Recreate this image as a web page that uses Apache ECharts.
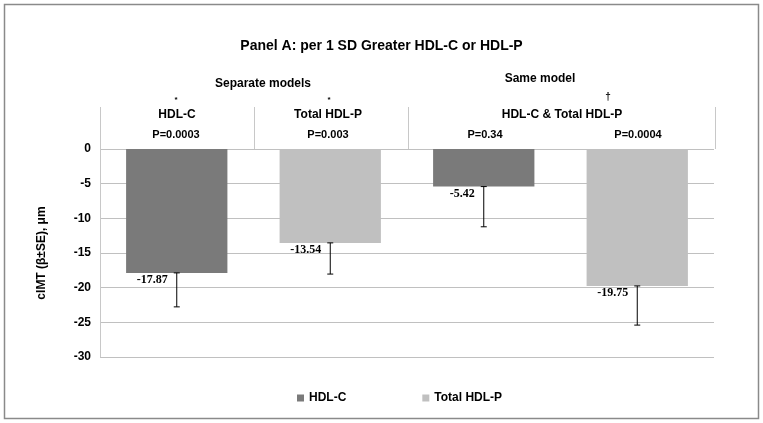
<!DOCTYPE html>
<html>

<head>
    <meta charset="utf-8">
    <script src="https://cdn.jsdelivr.net/npm/echarts@6/dist/echarts.min.js"></script>
    <style>
        html, body, div {
            width: 100%;
            height: 100%;
            margin: 0px;
            background: #fff;
        }
    </style>
</head>

<body>
    <div id="chart"></div>
    <script>
        // data
        var categories = ['HDL-C', 'Total HDL-P', 'HDL-C (same model)', 'Total HDL-P (same model)'];
        var hdlC = [-17.87, '-', -5.42, '-'];
        var totalHdlP = ['-', -13.54, '-', -19.75];
        var betas = [-17.87, -13.54, -5.42, -19.75];
        var stdErr = [4.9, 4.5, 5.8, 5.65];
        var pLabels = ['P=0.0003', 'P=0.003', 'P=0.34', 'P=0.0004'];

        var sans = '"Liberation Sans", Arial, sans-serif';
        var errData = betas.map(function (b, i) { return [i, b, stdErr[i]]; });

        function renderErr(params, api) {
            var i = api.value(0), v = api.value(1), e = api.value(2);
            var p0 = api.coord([i, v]);
            var p1 = api.coord([i, v - e]);
            var st = { stroke: '#000', lineWidth: 1 };
            return {
                type: 'group',
                children: [
                    { type: 'line', shape: { x1: p0[0], y1: p0[1], x2: p1[0], y2: p1[1] }, style: st },
                    { type: 'line', shape: { x1: p1[0] - 3, y1: p1[1], x2: p1[0] + 3, y2: p1[1] }, style: st },
                    { type: 'line', shape: { x1: p0[0] - 3, y1: p0[1], x2: p0[0] + 3, y2: p0[1] }, style: st },
                    {
                        type: 'text',
                        style: {
                            text: v.toFixed(2), x: p0[0] - 9, y: p0[1] + 7,
                            align: 'right', verticalAlign: 'middle',
                            font: 'bold 12px "Liberation Serif", "Times New Roman", serif', fill: '#000'
                        }
                    }
                ]
            };
        }

        function hText(t, x, y, size) {
            return {
                type: 'text', x: x, y: y,
                style: { text: t, align: 'center', verticalAlign: 'middle', font: 'bold ' + (size || 12) + 'px ' + sans, fill: '#000' }
            };
        }
        function vLine(x) {
            return { type: 'line', shape: { x1: x, y1: 107, x2: x, y2: 149 }, style: { stroke: '#c8c8c8', lineWidth: 1 } };
        }

        var myChart = echarts.init(document.getElementById('chart'));
        var option = {
            animation: false,
            title: {
                text: 'Panel A: per 1 SD Greater HDL-C or HDL-P',
                left: 'center',
                top: 34,
                textStyle: { fontFamily: sans, fontSize: 14, fontWeight: 'bold', color: '#000' }
            },
            grid: { left: 100, right: 49, top: 149, bottom: 66 },
            legend: {
                bottom: 14,
                left: 292,
                itemGap: 76,
                icon: 'rect',
                itemWidth: 7,
                itemHeight: 7,
                textStyle: { fontFamily: sans, fontSize: 12, fontWeight: 'bold', color: '#000' },
                data: ['HDL-C', 'Total HDL-P']
            },
            xAxis: {
                type: 'category',
                data: categories,
                position: 'top',
                axisLine: { show: false },
                axisTick: { show: false },
                axisLabel: { show: false }
            },
            yAxis: {
                type: 'value',
                min: -30,
                max: 0,
                interval: 5,
                name: 'cIMT (β±SE), μm',
                nameLocation: 'middle',
                nameGap: 52,
                nameTextStyle: { fontFamily: sans, fontSize: 12, fontWeight: 'bold', color: '#000' },
                axisLine: { show: true, lineStyle: { color: '#c8c8c8' } },
                axisTick: { show: false },
                axisLabel: { fontFamily: sans, fontSize: 12, fontWeight: 'bold', color: '#000', margin: 9 },
                splitLine: { lineStyle: { color: '#c0c0c0' } }
            },
            series: [
                {
                    name: 'HDL-C', type: 'bar', data: hdlC,
                    barWidth: '66%', barGap: '-100%',
                    itemStyle: { color: '#7a7a7a' }
                },
                {
                    name: 'Total HDL-P', type: 'bar', data: totalHdlP,
                    barWidth: '66%', barGap: '-100%',
                    itemStyle: { color: '#c0c0c0' }
                },
                {
                    type: 'custom', data: errData, renderItem: renderErr, z: 5,
                    silent: true
                }
            ],
            graphic: [
                { type: 'rect', shape: { x: 4.5, y: 4.5, width: 754, height: 414 }, style: { fill: null, stroke: '#8a8a8a', lineWidth: 1.5 } },
                vLine(100.5), vLine(254.5), vLine(408.5), vLine(715.5),
                hText('Separate models', 263, 84),
                hText('Same model', 540, 79),
                hText('*', 176, 100, 8),
                hText('*', 329, 100, 8),
                hText('†', 608, 97, 10),
                hText(categories[0], 177, 115),
                hText(categories[1], 328, 115),
                hText('HDL-C & Total HDL-P', 562, 115),
                hText(pLabels[0], 176, 135, 11),
                hText(pLabels[1], 328, 135, 11),
                hText(pLabels[2], 485, 135, 11),
                hText(pLabels[3], 638, 135, 11)
            ]
        };
        myChart.setOption(option);
    </script>
</body>

</html>
